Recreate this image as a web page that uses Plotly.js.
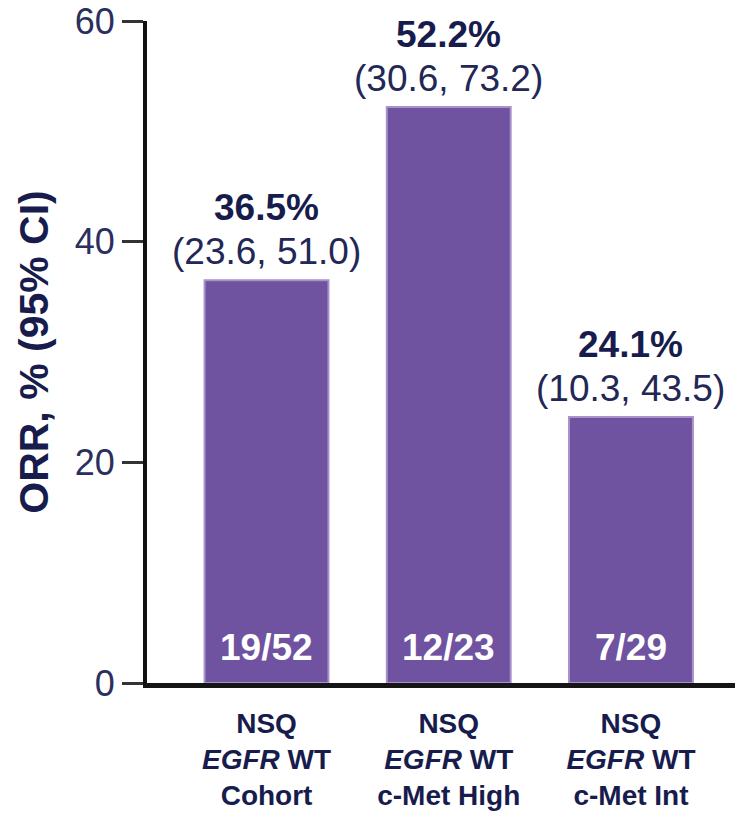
<!DOCTYPE html>
<html>
<head>
<meta charset="utf-8">
<script src="https://cdn.plot.ly/plotly-3.0.1.min.js"></script>
<style>html,body{margin:0;padding:0;background:#fff;}#chart{width:735px;height:815px;}</style>
</head>
<body>
<div id="chart"></div>
<script>
// Data
const categories = ["NSQ<br><i>EGFR</i> WT<br>Cohort", "NSQ<br><i>EGFR</i> WT<br>c-Met High", "NSQ<br><i>EGFR</i> WT<br>c-Met Int"];
const orr = [36.5, 52.2, 24.1];
const ciLow = [23.6, 30.6, 10.3];
const ciHigh = [51.0, 73.2, 43.5];
const responders = [19, 12, 7];
const totals = [52, 23, 29];
const yTicks = [0, 20, 40, 60];

const FONT = "Arial, 'Liberation Sans', Helvetica, sans-serif";
const NAVY = "#171c4d";
const PURPLE = "#6f52a0";

const annotations = [];
categories.forEach((c, i) => {
  annotations.push({
    x: c, y: orr[i], xref: "x", yref: "y",
    text: "(" + ciLow[i].toFixed(1) + ", " + ciHigh[i].toFixed(1) + ")",
    showarrow: false, yanchor: "bottom", yshift: 6,
    font: {family: FONT, size: 37, color: "#222756"}
  });
  annotations.push({
    x: c, y: orr[i], xref: "x", yref: "y",
    text: "<b>" + orr[i].toFixed(1) + "%</b>",
    showarrow: false, yanchor: "bottom", yshift: 50,
    font: {family: FONT, size: 37, color: NAVY}
  });
  annotations.push({
    x: c, y: 0, xref: "x", yref: "y",
    text: "<b>" + responders[i] + "/" + totals[i] + "</b>",
    showarrow: false, yanchor: "bottom", yshift: 13,
    font: {family: FONT, size: 37, color: "#ffffff"}
  });
});

const trace = {
  type: "bar",
  x: categories,
  y: orr,
  width: 0.68,
  marker: {color: PURPLE, line: {color: "#a793c9", width: 2}},
  hoverinfo: "none"
};

const layout = {
  width: 735, height: 815,
  margin: {l: 147, r: 0, t: 21, b: 132, pad: 0},
  paper_bgcolor: "#fff", plot_bgcolor: "#fff",
  showlegend: false,
  xaxis: {
    type: "category",
    range: [-0.656, 2.571],
    showline: true, linewidth: 5, linecolor: "#151515",
    ticks: "", showgrid: false, zeroline: false,
    tickfont: {family: FONT, size: 28, color: NAVY, weight: "bold"},
    ticklabelstandoff: 11,
    fixedrange: true
  },
  yaxis: {
    range: [0, 60],
    tickvals: yTicks,
    ticktext: yTicks.map(String),
    showline: true, linewidth: 4, linecolor: "#111",
    ticks: "outside", ticklen: 21, tickwidth: 3, tickcolor: "#333",
    showgrid: false, zeroline: false,
    tickfont: {family: FONT, size: 36, color: "#2a2f5e"},
    title: {text: "<b>ORR, % (95% CI)</b>", font: {family: FONT, size: 41, color: NAVY}, standoff: 14},
    fixedrange: true
  },
  annotations: annotations
};

Plotly.newPlot("chart", [trace], layout, {displayModeBar: false, staticPlot: true});
</script>
</body>
</html>
